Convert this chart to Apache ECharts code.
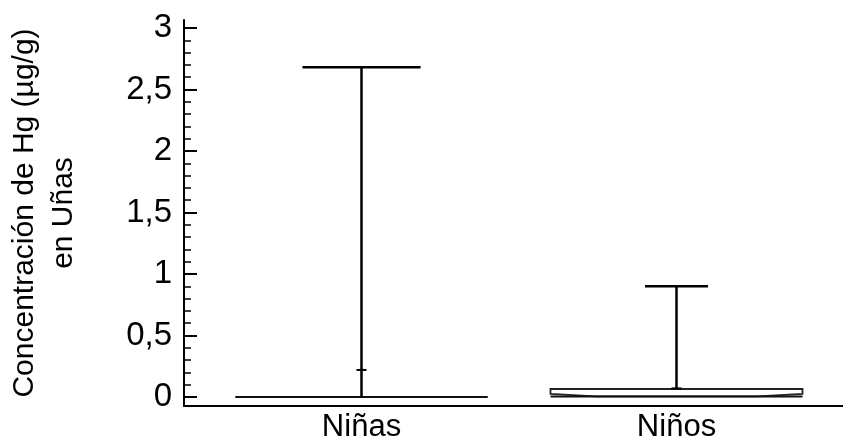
<!DOCTYPE html>
<html>
<head>
<meta charset="utf-8">
<script src="https://cdn.jsdelivr.net/npm/echarts@6/dist/echarts.min.js"></script>
<style>html,body{margin:0;padding:0;background:#fff}#c{width:843px;height:442px}</style>
</head>
<body>
<div id="c"></div>
<script>
const categories = ['Niñas', 'Niños'];
const minVals = [0, 0];
const q1Vals = [0, 0.025];
const medianVals = [0, 0.005];
const q3Vals = [0, 0.065];
const maxVals = [2.68, 0.9];
const meanVals = [0.22, 0.07];
const notchLowVals = [0, 0.005];
const majorTicks = [0, 0.5, 1, 1.5, 2, 2.5, 3];
const minorTicks = [0,0.1,0.2,0.3,0.4,0.5,0.6,0.7,0.8,0.9,1,1.1,1.2,1.3,1.4,1.5,1.6,1.7,1.8,1.9,2,2.1,2.2,2.3,2.4,2.5,2.6,2.7,2.8,2.9,3];

const capRatio = [0.375, 0.2];
const boxRatio = 0.8;
const FONT = "'Liberation Sans', Arial, sans-serif";
const YMIN = -0.073, YMAX = 3.065;

const data = categories.map((c, i) => [i, minVals[i], q1Vals[i], medianVals[i], q3Vals[i], maxVals[i], meanVals[i], notchLowVals[i]]);

function renderItem(params, api) {
  const i = api.value(0);
  const band = api.size([1, 0])[0];
  const cx = api.coord([i, 0])[0];
  const y = v => api.coord([i, v])[1];
  const mn = api.value(1), q1 = api.value(2), med = api.value(3), q3 = api.value(4), mx = api.value(5), mean = api.value(6), nl = api.value(7);
  const bw = band * boxRatio, L = cx - bw / 2, R = cx + bw / 2;
  const cw = band * capRatio[i];
  const nx = bw * 0.18;
  const children = [];
  const stroke = {stroke: '#000', lineWidth: 2};
  children.push({type: 'line', shape: {x1: cx, y1: y(q3), x2: cx, y2: y(mx)}, style: stroke});
  children.push({type: 'line', shape: {x1: cx - cw / 2, y1: y(mx), x2: cx + cw / 2, y2: y(mx)}, style: {stroke: '#000', lineWidth: 2.5}});
  children.push({type: 'line', shape: {x1: cx, y1: y(q1), x2: cx, y2: y(mn)}, style: stroke});
  children.push({type: 'polygon', shape: {points: [
    [L, y(q3)], [R, y(q3)], [R, y(q1)], [R - nx, y(nl)], [L + nx, y(nl)], [L, y(q1)]
  ]}, style: {fill: '#fff', stroke: '#222', lineWidth: 1.8}});
  children.push({type: 'line', shape: {x1: L, y1: y(med), x2: R, y2: y(med)}, style: {stroke: '#111', lineWidth: 2}});
  children.push({type: 'line', shape: {x1: cx, y1: y(q3), x2: cx, y2: y(mx)}, style: stroke});
  children.push({type: 'line', shape: {x1: cx - 5, y1: y(mean), x2: cx + 5, y2: y(mean)}, style: {stroke: '#000', lineWidth: 2}});
  return {type: 'group', children};
}

const chart = echarts.init(document.getElementById('c'), null, {renderer: 'canvas'});
chart.setOption({
  animation: false,
  backgroundColor: '#fff',
  grid: [
    {left: 204, right: 9, top: 20, bottom: 36, outerBoundsMode: 'none', containLabel: false},
    {left: 184, right: 0, top: 20, bottom: 36, outerBoundsMode: 'none', containLabel: false}
  ],
  xAxis: [
    {type: 'category', gridIndex: 0, data: categories, boundaryGap: true,
     axisLine: {show: false}, axisTick: {show: false}, splitLine: {show: false},
     axisLabel: {color: '#000', fontSize: 31, fontFamily: FONT, margin: 6}},
    {type: 'value', gridIndex: 1, min: 0, max: 1,
     axisLine: {show: true, onZero: false, lineStyle: {color: '#000', width: 2}},
     axisTick: {show: false}, axisLabel: {show: false}, splitLine: {show: false}}
  ],
  yAxis: [
    {type: 'value', gridIndex: 0, min: YMIN, max: YMAX, show: false},
    {type: 'value', gridIndex: 1, position: 'left', min: YMIN, max: YMAX,
     name: 'Concentración de Hg (µg/g)\nen Uñas', nameLocation: 'middle', nameRotate: 90, nameGap: 101,
     nameTextStyle: {color: '#000', fontSize: 30, fontFamily: FONT, lineHeight: 39, align: 'center'},
     axisLine: {show: true, onZero: false, lineStyle: {color: '#000', width: 2}},
     axisTick: {show: true, inside: true, length: 13, customValues: majorTicks, lineStyle: {color: '#000', width: 2}},
     axisLabel: {show: true, customValues: majorTicks, color: '#000', fontSize: 33, fontFamily: FONT, margin: 12,
       formatter: v => String(v).replace('.', ',')},
     splitLine: {show: false}},
    {type: 'value', gridIndex: 1, position: 'left', offset: 0, min: YMIN, max: YMAX,
     axisLine: {show: false},
     axisTick: {show: true, inside: true, length: 7, customValues: minorTicks, lineStyle: {color: '#000', width: 1.5}},
     axisLabel: {show: false}, splitLine: {show: false}}
  ],
  series: [{
    type: 'custom', xAxisIndex: 0, yAxisIndex: 0, renderItem, data,
    encode: {x: 0, y: [1, 2, 3, 4, 5]}, clip: false
  }]
});
</script>
</body>
</html>
